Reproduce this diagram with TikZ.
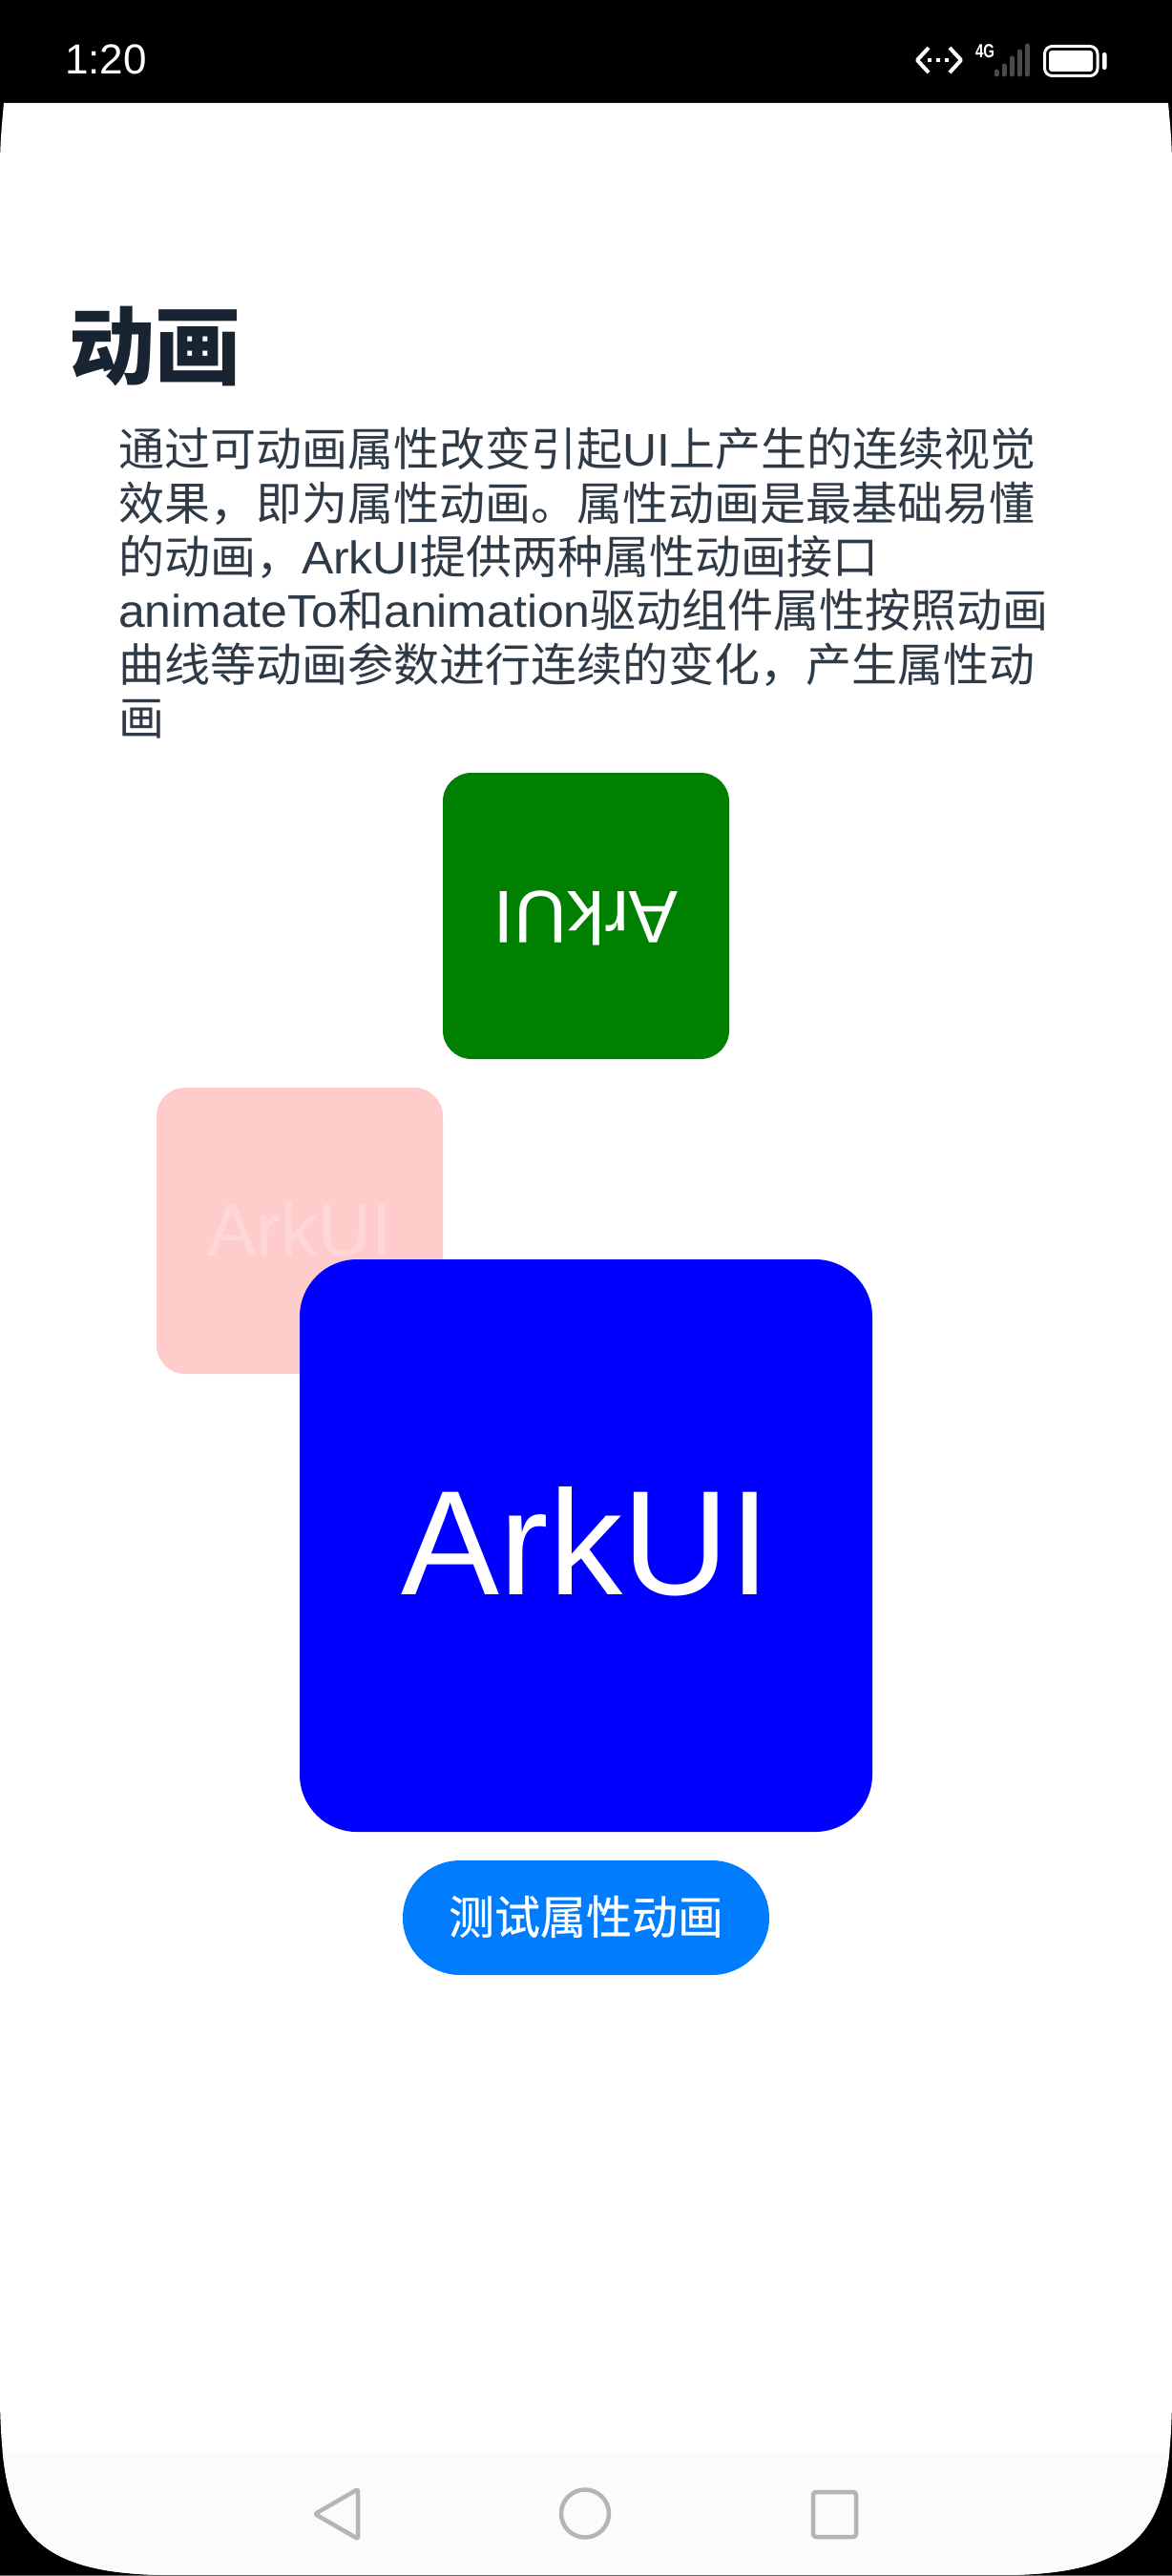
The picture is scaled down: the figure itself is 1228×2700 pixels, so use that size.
\documentclass[tikz,border=0pt]{standalone}
\usepackage{graphicx}
\usepackage{fontspec}
\setmainfont{Liberation Sans}
\newfontfamily\cjk{Noto Sans CJK SC}
\newfontfamily\cjkm[FakeBold=0.6]{Noto Sans CJK SC}
\newfontfamily\lat[FakeStretch=1.04]{Liberation Sans}
\newfontfamily\ark[FakeStretch=0.99]{Liberation Sans}
\newcommand{\zh}[1]{{\cjk #1}}
\newcommand{\la}[1]{{\lat #1}}
\newcommand{\fs}[2]{\fontsize{#1pt}{#2pt}\selectfont}
\definecolor{titlec}{HTML}{182431}
\definecolor{bodyc}{HTML}{2F3A47}
\definecolor{pinkbox}{HTML}{FFCCCC}
\definecolor{pinktxt}{HTML}{FFD7D7}
\definecolor{grn}{HTML}{008000}
\definecolor{blu}{HTML}{0000FF}
\definecolor{btn}{HTML}{007DFF}
\definecolor{navbg}{HTML}{FBFBFB}
\definecolor{navic}{HTML}{B5B5B5}
\definecolor{sig}{HTML}{4A4A4A}
\tikzset{
  lbl/.style={inner sep=0pt,outer sep=0pt},
  navicon/.style={draw=navic,line width=4.5pt,line join=round},
  statusline/.style={draw=white,line width=4pt},
  sigbar/.style={draw=sig,line width=5pt,line cap=round},
}
\begin{document}
\begin{tikzpicture}[x=1pt,y=-1pt]
\useasboundingbox (0,0) rectangle (1228,2700);
\fill[black] (0,0) rectangle (1228,2700);
% screen
\def\screenpath{(4,108) -- (1224,108) .. controls (1226,130) and (1228,150) .. (1228,175) -- (1228,2520)
  .. controls (1225,2640) and (1208,2699) .. (1048,2699) -- (180,2699)
  .. controls (20,2699) and (3,2640) .. (0,2520) -- (0,175) .. controls (0,150) and (2,130) .. (4,108) -- cycle}
\fill[white] \screenpath;
\begin{scope}
  \clip \screenpath;
  \fill[navbg] (0,2570) rectangle (1228,2700);
\end{scope}
\fill[black!60] (0,2699) rectangle (1228,2700);
% status bar
\node[lbl,anchor=base west,text=white] (time) at (68,78) {\fs{44}{44}1:20};
\draw[statusline,line join=round] (973,50) -- (961,63) -- (973,76);
\draw[statusline,line join=round] (995,50) -- (1007,63) -- (995,76);
\foreach \dx in {974,983,992} \fill[white] (\dx-2,61) rectangle (\dx+2,65);
\node[lbl,anchor=base west,text=white] (net) at (1022,61) {\scalebox{.75}[1]{\fs{20}{20}\bfseries 4G}};
\draw[sigbar] (1044,78) -- (1044,75);
\draw[sigbar] (1052,78) -- (1052,69);
\draw[sigbar] (1060.3,78) -- (1060.3,61);
\draw[sigbar] (1068.3,78) -- (1068.3,54);
\draw[sigbar] (1076.3,78) -- (1076.3,48);
\draw[white,line width=3pt,rounded corners=8pt] (1094.5,48.5) rectangle (1150,79.5);
\fill[white,rounded corners=3pt] (1099,53) rectangle (1145,75);
\fill[white,rounded corners=2pt] (1155,55) rectangle (1159.5,73);
% title and paragraph
\node[lbl,anchor=base west,text=titlec] (title) at (72,396) {\fs{90}{90}\zh{\bfseries 动画}};
\node[lbl,anchor=north west,align=left,text=bodyc,font=\fs{48}{56.4}] (body) at (124,448) {%
\zh{通过可动画属性改变引起}\la{UI}\zh{上产生的连续视觉}\\
\zh{效果，即为属性动画。属性动画是最基础易懂}\\
\zh{的动画，}\la{ArkUI}\zh{提供两种属性动画接口}\\
\la{animateTo}\zh{和}\la{animation}\zh{驱动组件属性按照动画}\\
\zh{曲线等动画参数进行连续的变化，产生属性动}\\
\zh{画}};
% boxes
\fill[grn,rounded corners=30pt] (464,810) rectangle (764,1110);
\node[lbl,anchor=base,rotate=180,text=white] (greentxt) at (614,934) {\fs{78}{78}\ark ArkUI};
\fill[pinkbox,rounded corners=30pt] (164,1140) rectangle (464,1440);
\node[lbl,anchor=base,text=pinktxt] (pinklbl) at (314,1316) {\fs{78}{78}\ark ArkUI};
\fill[blu,rounded corners=60pt] (314,1320) rectangle (914,1920);
\node[lbl,anchor=base,text=white] (bluelbl) at (614,1671) {\fs{156}{156}\ark ArkUI};
\fill[btn,rounded corners=60pt] (422,1950) rectangle (806,2070);
\node[lbl,anchor=base,text=white] (btnlbl) at (614,2027) {\fs{48}{48}{\cjkm 测试属性动画}};
% navigation
\draw[navicon,rounded corners=2pt] (375,2609) -- (330,2635) -- (375,2661) -- cycle;
\draw[navic,line width=4.5pt] (613,2634.5) circle (25);
\draw[navicon,rounded corners=3pt] (852,2612) rectangle (897,2659);
\end{tikzpicture}
\end{document}
